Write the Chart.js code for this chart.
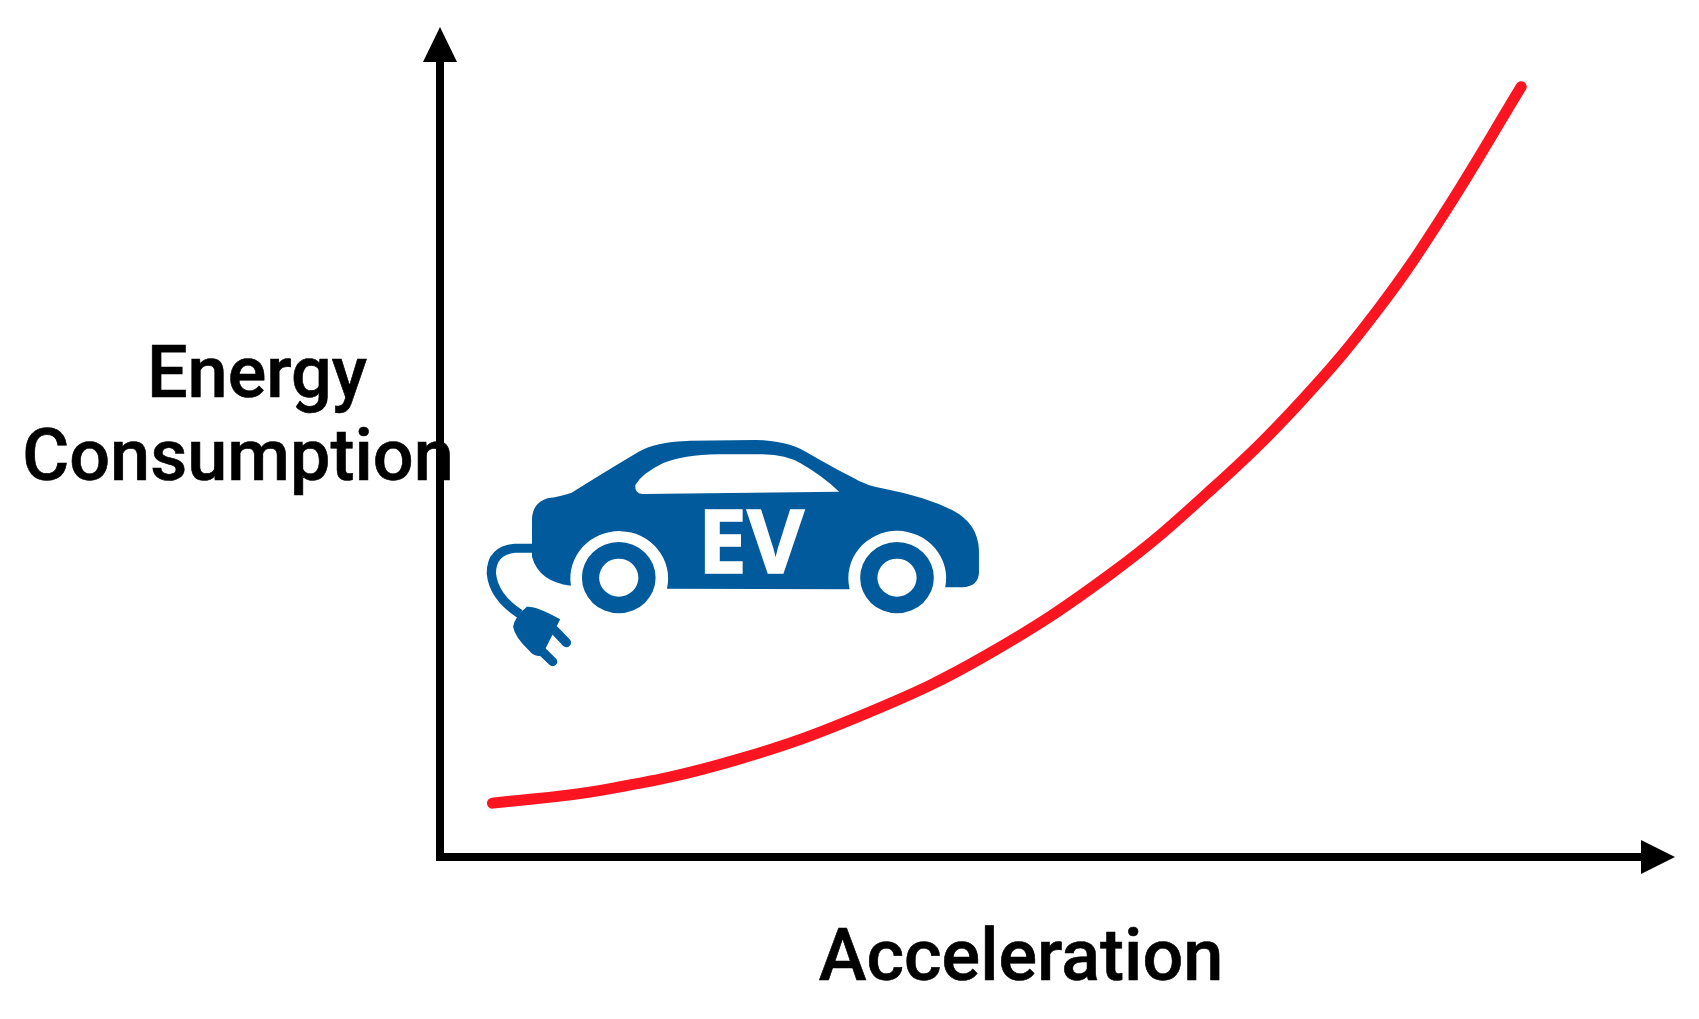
<!DOCTYPE html>
<html>
<head>
<meta charset="utf-8">
<title>Energy consumption vs acceleration</title>
<script src="https://cdn.jsdelivr.net/npm/chart.js@4/dist/chart.umd.min.js"></script>
<style>
    html, body { margin: 0; padding: 0; background: #fff; }
    canvas { display: block; }
</style>
</head>
<body>
<canvas id="curveChart" width="1699" height="1019"></canvas>
<script>
// values, both axes in % of the axis length
const accel = [4.3, 13.3, 24.3, 35.3, 44.9, 55.2, 63.4, 70.6, 76.9, 82.3, 88.7];
const energy = [6.6, 8.2, 11.9, 17.8, 24.8, 34.9, 45.2, 55.8, 67.0, 78.7, 94.4];
const yLabelLines = ['Energy', 'Consumption'];
const xLabel = 'Acceleration';
const badgeText = 'EV';

const BLUE = '#005a9c';
const RED = '#fb1520';

// arrow heads on the end of both axes
const axisArrows = {
    id: 'axisArrows',
    afterDraw(chart) {
        const { ctx, scales: { x, y } } = chart;
        const tipX = x.getPixelForValue(x.max) + 16;
        const tipY = y.getPixelForValue(y.max) - 14;
        const y0 = y.getPixelForValue(y.min);
        const x0 = x.getPixelForValue(x.min);
        ctx.save();
        ctx.fillStyle = '#000';
        ctx.beginPath();
        ctx.moveTo(x0, tipY);
        ctx.lineTo(x0 - 17, tipY + 35);
        ctx.lineTo(x0 + 17, tipY + 35);
        ctx.fill();
        ctx.beginPath();
        ctx.moveTo(tipX, y0);
        ctx.lineTo(tipX - 34, y0 - 17);
        ctx.lineTo(tipX - 34, y0 + 17);
        ctx.fill();
        ctx.restore();
    }
};

const axisLabels = {
    id: 'axisLabels',
    afterDraw(chart) {
        const { ctx } = chart;
        ctx.save();
        ctx.fillStyle = '#000';
        ctx.strokeStyle = '#000';
        ctx.lineWidth = 0.6;
        ctx.textAlign = 'center';
        ctx.textBaseline = 'alphabetic';
        ctx.font = '500 72px Roboto';
        [[yLabelLines[0], 257, 397], [yLabelLines[1], 238, 480], [xLabel, 1021, 980]].forEach(([text, px, py]) => {
            ctx.fillText(text, px, py);
            ctx.strokeText(text, px, py);
        });
        ctx.restore();
    }
};

// the car icon, traced in its own 1/3 px grid
const carIcon = {
    id: 'carIcon',
    afterDraw(chart) {
        const { ctx } = chart;
        const body = new Path2D('M180 370 L180 300 Q180 250 225 235 Q270 228 295 218 Q400 150 490 95 Q540 65 640 62 L830 60 Q920 62 975 95 Q1050 140 1110 172 Q1150 198 1210 208 Q1320 230 1400 270 Q1475 310 1478 390 L1478 460 Q1475 500 1430 502 L1380 502 A142 142 0 1 0 1102 505 L1102 508 L572 506 A142 142 0 1 0 293 497 Q200 485 180 410 Z');
        const glass = new Path2D('M480 195 Q500 160 560 130 Q620 105 720 103 L850 103 Q920 105 960 130 Q1020 165 1072 215 L500 222 Q478 220 480 195 Z');
        const plug = new Path2D('M165 560 Q195 558 262 598 L210 705 Q190 715 170 690 Q130 650 125 620 Q130 590 165 560 Z');

        ctx.save();
        ctx.translate(470, 420);
        ctx.scale(1 / 2.904, 1 / 3);
        ctx.fillStyle = BLUE;
        ctx.strokeStyle = BLUE;
        ctx.fill(body);
        ctx.fillStyle = '#fff';
        ctx.fill(glass);
        ctx.fillStyle = BLUE;

        [432, 1240].forEach(cx => {
            ctx.beginPath();
            ctx.arc(cx, 473, 107, 0, Math.PI * 2);
            ctx.arc(cx, 473, 57, 0, Math.PI * 2, true);
            ctx.fill();
        });

        // cable
        ctx.lineWidth = 27;
        ctx.beginPath();
        ctx.moveTo(185, 385);
        ctx.lineTo(130, 385);
        ctx.quadraticCurveTo(62, 392, 62, 460);
        ctx.quadraticCurveTo(68, 530, 145, 582);
        ctx.stroke();

        ctx.fill(plug);
        ctx.lineCap = 'round';
        ctx.beginPath();
        ctx.moveTo(245, 630);
        ctx.lineTo(280, 668);
        ctx.moveTo(205, 690);
        ctx.lineTo(240, 725);
        ctx.stroke();
        ctx.restore();

        ctx.save();
        ctx.fillStyle = '#fff';
        ctx.strokeStyle = '#fff';
        ctx.lineWidth = 1.5;
        ctx.textAlign = 'center';
        ctx.textBaseline = 'alphabetic';
        ctx.font = '700 88px "Open Sans"';
        ctx.fillText(badgeText, 751, 573);
        ctx.strokeText(badgeText, 751, 573);
        ctx.restore();
    }
};

new Chart(document.getElementById('curveChart').getContext('2d'), {
    type: 'line',
    data: {
        labels: accel,
        datasets: [{
            label: 'Energy Consumption',
            data: accel.map((a, i) => ({ x: a, y: energy[i] })),
            borderColor: RED,
            borderWidth: 11,
            borderCapStyle: 'round',
            borderJoinStyle: 'round',
            tension: 0.4,
            pointRadius: 0,
            fill: false
        }]
    },
    options: {
        responsive: false,
        animation: false,
        layout: { padding: { left: 432, top: 41, right: 40, bottom: 154 } },
        scales: {
            x: {
                type: 'linear',
                min: 0,
                max: 100,
                ticks: { display: false },
                grid: { display: false },
                border: { color: '#000', width: 8 }
            },
            y: {
                min: 0,
                max: 100,
                ticks: { display: false },
                grid: { display: false },
                border: { color: '#000', width: 8 }
            }
        },
        plugins: {
            legend: { display: false },
            tooltip: { enabled: false }
        }
    },
    plugins: [axisArrows, axisLabels, carIcon]
});
</script>
</body>
</html>
